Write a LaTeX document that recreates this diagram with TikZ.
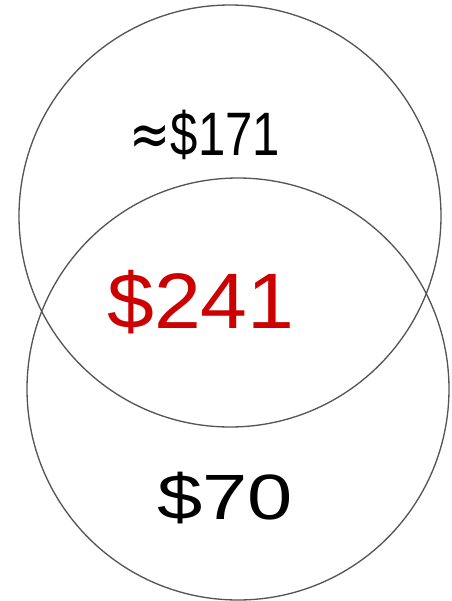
\documentclass[tikz,border=0pt]{standalone}
\usepackage{fontspec}
\usepackage{graphicx}
\setmainfont{Liberation Sans}
\newfontfamily\symfont{DejaVu Sans}
\usetikzlibrary{positioning}
\definecolor{cRing}   {HTML}{555555}
\definecolor{cOverlap}{HTML}{CC0000}
\definecolor{cAmount} {HTML}{000000}

\begin{document}
\begin{tikzpicture}[x=0.75pt, y=-0.75pt]
        \useasboundingbox (0,0) rectangle (452,601);
        \node[draw=cRing, line width=1pt, circle, inner sep=0pt,
               minimum size=316.5pt] (upper) at (230, 216) {};
        \node[draw=cRing, line width=1pt, circle, inner sep=0pt,
               minimum size=316.5pt] (lower) at (238, 389) {};
        \node[text=cAmount, anchor=base, inner sep=0pt,
               font=\fontsize{46pt}{46pt}\selectfont] (only) at (205, 155)
               {\scalebox{0.8}[1]{{\symfont ≈}\$171}};
        \node[text=cOverlap, anchor=base, inner sep=0pt,
               font=\fontsize{59pt}{59pt}\selectfont] (both) at (201, 328)
               {\scalebox{1.07}[1]{\$241}};
        \node[text=cAmount, anchor=base, inner sep=0pt,
               font=\fontsize{48pt}{48pt}\selectfont] (rest) at (225, 519)
               {\scalebox{1.27}[1]{\$70}};
      \end{tikzpicture}
\end{document}
